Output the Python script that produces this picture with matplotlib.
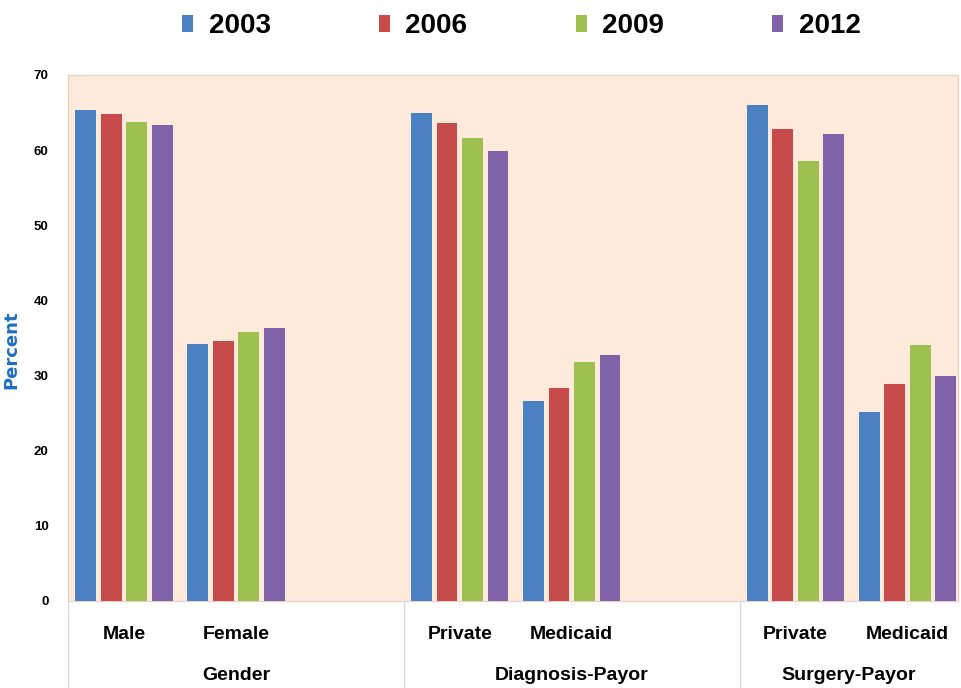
import matplotlib
matplotlib.use("Agg")
import matplotlib.pyplot as plt
import matplotlib.transforms as mtransforms
import numpy as np

# data
years = ["2003", "2006", "2009", "2012"]
categories = ["Male", "Female", "Private", "Medicaid", "Private", "Medicaid"]
groups = ["Gender", "Diagnosis-Payor", "Surgery-Payor"]
# slot index of each category (one empty slot after every pair)
slots = [0, 1, 3, 4, 6, 7]

v2003 = [65.4, 34.2, 65.0, 26.6, 66.0, 25.2]
v2006 = [64.8, 34.6, 63.6, 28.4, 62.8, 28.9]
v2009 = [63.7, 35.8, 61.6, 31.8, 58.5, 34.1]
v2012 = [63.4, 36.3, 59.9, 32.7, 62.2, 30.0]
series = [v2003, v2006, v2009, v2012]

colors = ["#4B80C3", "#C64B4A", "#9DC050", "#8062A8"]
yticks = [0, 10, 20, 30, 40, 50, 60, 70]

plt.rcParams["font.family"] = ["Liberation Sans", "DejaVu Sans"]

fig = plt.figure(figsize=(9.62, 6.88), dpi=100)
ax = fig.add_axes([0.0707, 0.1265, 0.925, 0.7645])
ax.set_facecolor("#FDEADB")

x = np.array(slots, dtype=float)
pitch = 0.228
width = 0.185
handles = []
for k, (vals, col, yr) in enumerate(zip(series, colors, years)):
    b = ax.bar(x + (k - 1.5) * pitch, vals, width=width, color=col, label=yr, zorder=3)
    handles.append(b)

ax.set_xlim(-0.5, 7.45)
ax.set_ylim(0, 70)
ax.set_yticks(yticks)
ax.set_yticklabels([str(t) for t in yticks], fontsize=9.5, fontweight="bold")
ax.tick_params(axis="y", length=0, pad=14)

ax.set_xticks(slots)
ax.set_xticklabels(categories, fontsize=14, fontweight="bold")
ax.tick_params(axis="x", length=0, pad=18)

for side, sp in ax.spines.items():
    sp.set_color("#EFCDBD")
    sp.set_linewidth(0.9)
ax.spines["bottom"].set_color("#E3D3CC")

ax.set_ylabel("Percent", fontsize=13, fontweight="bold", color="#1F6FC0",
              family=["DejaVu Sans"])
ax.yaxis.set_label_coords(-0.053, 0.477)

# group separators and group labels below the axis
trans = mtransforms.blended_transform_factory(ax.transData, ax.transAxes)
for sx in [-0.5, 2.5, 5.5]:
    ax.plot([sx, sx], [0, -0.17], transform=trans, color="#D9D9D9",
            linewidth=0.9, clip_on=False)
group_x = [1, 4, (5.5 + 7.45) / 2]
for gx, g in zip(group_x, groups):
    ax.text(gx, -0.141, g, transform=trans, ha="center", va="center",
            fontsize=14, fontweight="bold")

fig.legend(handles=handles, labels=years, loc="center", ncol=4,
           bbox_to_anchor=(0.542, 0.962), frameon=False,
           prop={"size": 20, "weight": "bold"},
           handlelength=0.4, handleheight=0.55, handletextpad=0.55,
           columnspacing=3.9)

fig.savefig("out.png", dpi=100)
